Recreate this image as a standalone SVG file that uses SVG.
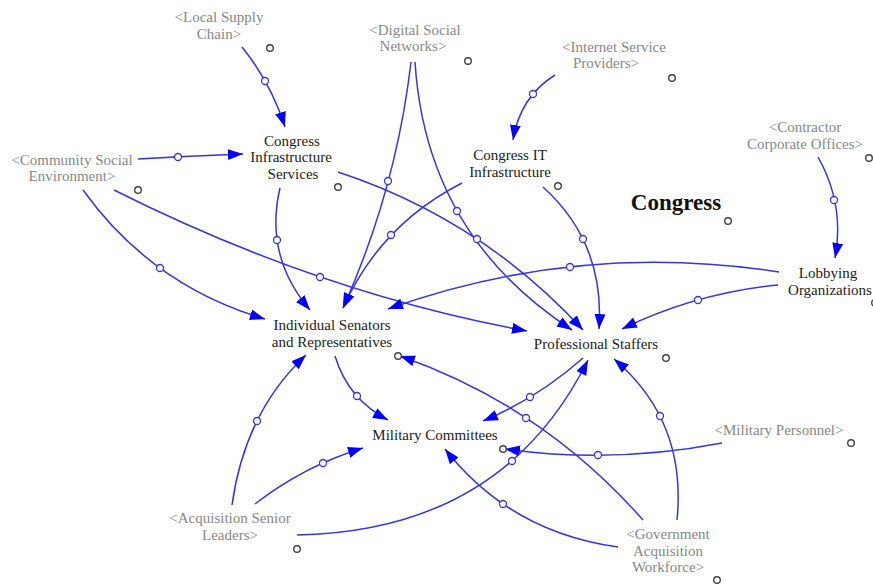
<svg xmlns="http://www.w3.org/2000/svg" width="873" height="584" viewBox="0 0 873 584">
<defs>
<marker id="ah" markerUnits="userSpaceOnUse" markerWidth="16" markerHeight="12" refX="15" refY="5.5" orient="auto">
<path d="M0,0 L15,5.5 L0,11 z" fill="#0000ff"/>
</marker>
<style>
.c{fill:none;stroke:#3535e6;stroke-width:1.5;marker-end:url(#ah)}
.p{fill:#fff;stroke:#3535e6;stroke-width:1.3}
.o{fill:#fff;stroke:#444;stroke-width:1.4}
.g{font-family:"Liberation Serif",serif;font-size:15px;fill:#888;text-anchor:middle}
.n{font-family:"Liberation Serif",serif;font-size:15px;fill:#222;text-anchor:middle}
.t{font-family:"Liberation Serif",serif;font-size:23px;font-weight:bold;fill:#111;text-anchor:middle}
</style>
</defs>
<rect width="873" height="584" fill="#fff"/>
<g id="connectors">
<path class="c" d="M242,47 Q271,83 285,127"/>
<path class="c" d="M138,159 Q190,156 243,154"/>
<path class="c" d="M83,190 Q152,286 265,319"/>
<path class="c" d="M114,190 Q319,293 527,331"/>
<path class="c" d="M280,188 Q264,256 310,310"/>
<path class="c" d="M338,172 Q481,219 583,330"/>
<path class="c" d="M411,62 Q396,190 343,308"/>
<path class="c" d="M415,62 Q426,235 572,330"/>
<path class="c" d="M555,75 Q520,97 513,140"/>
<path class="c" d="M462,183 Q380,225 343,308"/>
<path class="c" d="M543,187 Q605,243 599,329"/>
<path class="c" d="M818,157 Q845,205 835,258"/>
<path class="c" d="M778,285 Q696,293 622,329"/>
<path class="c" d="M779,272 Q578,241 388,309"/>
<path class="c" d="M335,356 Q348,399 388,420"/>
<path class="c" d="M583,358 Q538,398 483,421"/>
<path class="c" d="M722,443 Q614,464 505,449"/>
<path class="c" d="M232,505 Q245,412 306,355"/>
<path class="c" d="M255,504 Q304,466 363,448"/>
<path class="c" d="M297,535 Q503,531 588,360"/>
<path class="c" d="M643,520 Q543,406 400,356"/>
<path class="c" d="M618,547 Q510,532 445,449"/>
<path class="c" d="M677,520 Q687,421 614,359"/>
<circle class="p" cx="265" cy="81" r="3.5"/>
<circle class="p" cx="178" cy="157" r="3.5"/>
<circle class="p" cx="160" cy="268" r="3.5"/>
<circle class="p" cx="320" cy="277" r="3.5"/>
<circle class="p" cx="277" cy="240" r="3.5"/>
<circle class="p" cx="477" cy="239" r="3.5"/>
<circle class="p" cx="388" cy="181" r="3.5"/>
<circle class="p" cx="457" cy="211" r="3.5"/>
<circle class="p" cx="533" cy="94" r="3.5"/>
<circle class="p" cx="391" cy="235" r="3.5"/>
<circle class="p" cx="583" cy="239" r="3.5"/>
<circle class="p" cx="834" cy="200" r="3.5"/>
<circle class="p" cx="698" cy="300" r="3.5"/>
<circle class="p" cx="570" cy="267" r="3.5"/>
<circle class="p" cx="357" cy="396" r="3.5"/>
<circle class="p" cx="530" cy="397" r="3.5"/>
<circle class="p" cx="598" cy="455" r="3.5"/>
<circle class="p" cx="257" cy="421" r="3.5"/>
<circle class="p" cx="323" cy="463" r="3.5"/>
<circle class="p" cx="512" cy="461" r="3.5"/>
<circle class="p" cx="526" cy="418" r="3.5"/>
<circle class="p" cx="503" cy="504" r="3.5"/>
<circle class="p" cx="660" cy="416" r="3.5"/>
</g>
<g id="local-supply-chain"><text class="g" x="219" y="22">&lt;Local Supply</text><text class="g" x="219" y="39">Chain&gt;</text><circle class="o" cx="270" cy="48" r="3.3"/></g>
<g id="digital-social-networks"><text class="g" x="415" y="35">&lt;Digital Social</text><text class="g" x="413" y="51">Networks&gt;</text><circle class="o" cx="468" cy="61" r="3.3"/></g>
<g id="internet-service-providers"><text class="g" x="614" y="52">&lt;Internet Service</text><text class="g" x="606" y="68">Providers&gt;</text><circle class="o" cx="672" cy="78" r="3.3"/></g>
<g id="contractor-corporate-offices"><text class="g" x="805" y="132">&lt;Contractor</text><text class="g" x="805" y="149">Corporate Offices&gt;</text><circle class="o" cx="869" cy="158" r="3.3"/></g>
<g id="congress-title"><text class="t" x="676" y="210">Congress</text><circle class="o" cx="728" cy="221" r="3.3"/></g>
<g id="community-social-environment"><text class="g" x="72" y="165">&lt;Community Social</text><text class="g" x="72" y="181">Environment&gt;</text><circle class="o" cx="138" cy="190" r="3.3"/></g>
<g id="congress-infrastructure-services"><text class="n" x="292" y="146">Congress</text><text class="n" x="291" y="162">Infrastructure</text><text class="n" x="293" y="179">Services</text><circle class="o" cx="338" cy="187" r="3.3"/></g>
<g id="congress-it-infrastructure"><text class="n" x="510" y="160">Congress IT</text><text class="n" x="510" y="177">Infrastructure</text><circle class="o" cx="558" cy="186" r="3.3"/></g>
<g id="lobbying-organizations"><text class="n" x="828" y="278">Lobbying</text><text class="n" x="830" y="295">Organizations</text><circle class="o" cx="875" cy="303" r="3.3"/></g>
<g id="individual-senators"><text class="n" x="332" y="330">Individual Senators</text><text class="n" x="332" y="347">and Representatives</text><circle class="o" cx="398" cy="356" r="3.3"/></g>
<g id="professional-staffers"><text class="n" x="596" y="349">Professional Staffers</text><circle class="o" cx="666" cy="358" r="3.3"/></g>
<g id="military-committees"><text class="n" x="435" y="440">Military Committees</text><circle class="o" cx="503" cy="449" r="3.3"/></g>
<g id="military-personnel"><text class="g" x="779" y="435">&lt;Military Personnel&gt;</text><circle class="o" cx="851" cy="443" r="3.3"/></g>
<g id="acquisition-senior-leaders"><text class="g" x="230" y="523">&lt;Acquisition Senior</text><text class="g" x="230" y="540">Leaders&gt;</text><circle class="o" cx="297" cy="549" r="3.3"/></g>
<g id="government-acquisition-workforce"><text class="g" x="668" y="539">&lt;Government</text><text class="g" x="668" y="556">Acquisition</text><text class="g" x="668" y="572">Workforce&gt;</text><circle class="o" cx="717" cy="580" r="3.3"/></g>
</svg>
